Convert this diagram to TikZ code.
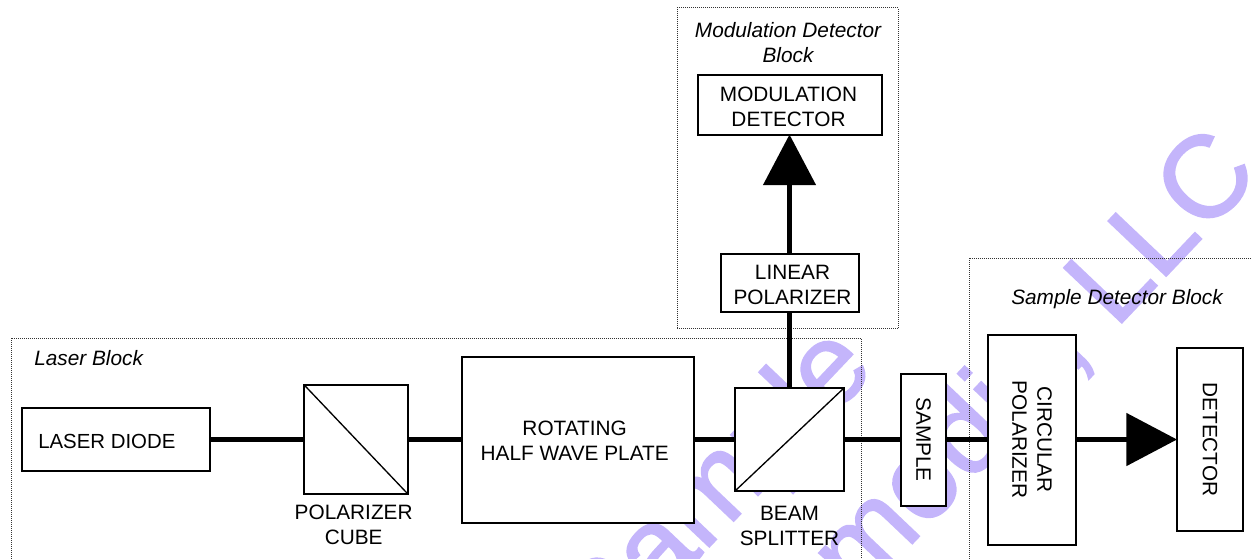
\documentclass[tikz,border=0pt]{standalone}
\usepackage{fontspec}
\setmainfont{Liberation Sans}
\newfontfamily\stampfont[FakeBold=1.5]{Liberation Sans}
\usepackage{xcolor}
\usepackage{tikz}
\usetikzlibrary{arrows.meta, positioning}
\definecolor{stamp}{RGB}{196,181,251}

\begin{document}
\begin{tikzpicture}[x=0.75pt, y=-0.75pt,
   font=\fontsize{15.6}{18.75}\selectfont,
   wmark/.style={font=\fontsize{87}{87}\stampfont, text=stamp, rotate=46.5, inner sep=0pt},
   blk/.style={rectangle, densely dotted, draw=black!80, line width=0.5pt, inner sep=0pt, outer sep=0pt},
   ttl/.style={font=\fontsize{15.6}{18.75}\selectfont\itshape, align=center, inner sep=0pt},
   part/.style={rectangle, draw, line width=1.5pt, fill=white, align=center, inner sep=0pt, outer sep=0pt},
   undertxt/.style={align=center, inner sep=0pt},
   beam/.style={line width=3.75pt},
   ray/.style={line width=3.75pt, -{Triangle[length=38pt, width=39pt]}}]
  \clip[use as bounding box] (0,0) rectangle (1252,558);

  % watermark
  \node[wmark, anchor=base east] (wmone) at (877,370) {Sample};
  \node[wmark, anchor=base east] (wmtwo) at (1262,175) {Simmodic, LLC};

  % blocks
  \node[blk, minimum width=637.5pt, minimum height=300pt, anchor=north west] (lasblk) at (11,338) {};
  \node[blk, minimum width=165.75pt, minimum height=240.75pt, anchor=north west] (modblk) at (677,7.5) {};
  \node[blk, minimum width=300pt, minimum height=300pt, anchor=north west] (smpblk) at (969,258) {};
  \node[ttl, anchor=west] (lasttl) at (34,358) {Laser Block};
  \node[ttl] (modttl) at (788,42.5) {Modulation Detector\\Block};
  \node[ttl, anchor=west] (smpttl) at (1011,299.5) {Sample Detector Block};

  % main row
  \node[part, minimum width=141pt, minimum height=47pt,
        label={[anchor=west, xshift=12pt, yshift=-1.5pt, inner sep=0pt, font=\fontsize{15.3}{18.75}\selectfont]west:LASER DIODE}] (laser) at (116,439.5) {};
  \node[part, minimum width=77.5pt, minimum height=81.5pt, right=70.8pt of laser] (polcube) {};
  \node[part, minimum width=174pt, minimum height=124.5pt, right=40.7pt of polcube,
        label={[xshift=-2.5pt, yshift=-0.75pt, align=center, inner sep=0pt]center:ROTATING\\HALF WAVE PLATE}] (hwp) {};
  \node[part, minimum width=81.75pt, minimum height=77.25pt, right=30.75pt of hwp] (split) {};
  \node[part, minimum width=33.75pt, minimum height=99pt, right=42.75pt of split,
        label={[rotate=-90, inner sep=0pt]center:SAMPLE}] (sample) {};
  \node[part, minimum width=66pt, minimum height=157.5pt, right=31.5pt of sample,
        label={[rotate=-90, align=center, inner sep=0pt]center:CIRCULAR\\POLARIZER}] (circ) {};
  \node[part, minimum width=49.5pt, minimum height=137.25pt, right=75.75pt of circ,
        label={[rotate=-90, inner sep=0pt]center:DETECTOR}] (det) {};

  % upper arm
  \node[part, minimum width=103.5pt, minimum height=43.5pt, above=57pt of split,
        label={[xshift=2.25pt, yshift=-1.5pt, align=center, inner sep=0pt]center:LINEAR\\POLARIZER}] (linpol) {};
  \node[part, minimum width=138pt, minimum height=44.6pt, above=89.6pt of linpol,
        label={[xshift=-0.75pt, yshift=-1.5pt, align=center, inner sep=0pt]center:MODULATION\\DETECTOR}] (moddet) {};

  \node[undertxt, below=8pt of polcube, xshift=-1.8pt] (polcap) {POLARIZER\\CUBE};
  \node[undertxt, below=11pt of split] (splcap) {BEAM\\SPLITTER};

  \draw[line width=1pt] (polcube.north west) -- (polcube.south east);
  \draw[line width=1pt] (split.south west) -- (split.north east);

  \draw[beam] (laser) -- (polcube);
  \draw[beam] (polcube) -- (hwp);
  \draw[beam] (hwp) -- (split);
  \draw[beam] (split) -- (sample);
  \draw[beam] (sample) -- (circ);
  \draw[beam] (split) -- (linpol);
  \draw[ray] (circ) -- (det);
  \draw[ray] (linpol) -- (moddet);
\end{tikzpicture}
\end{document}
